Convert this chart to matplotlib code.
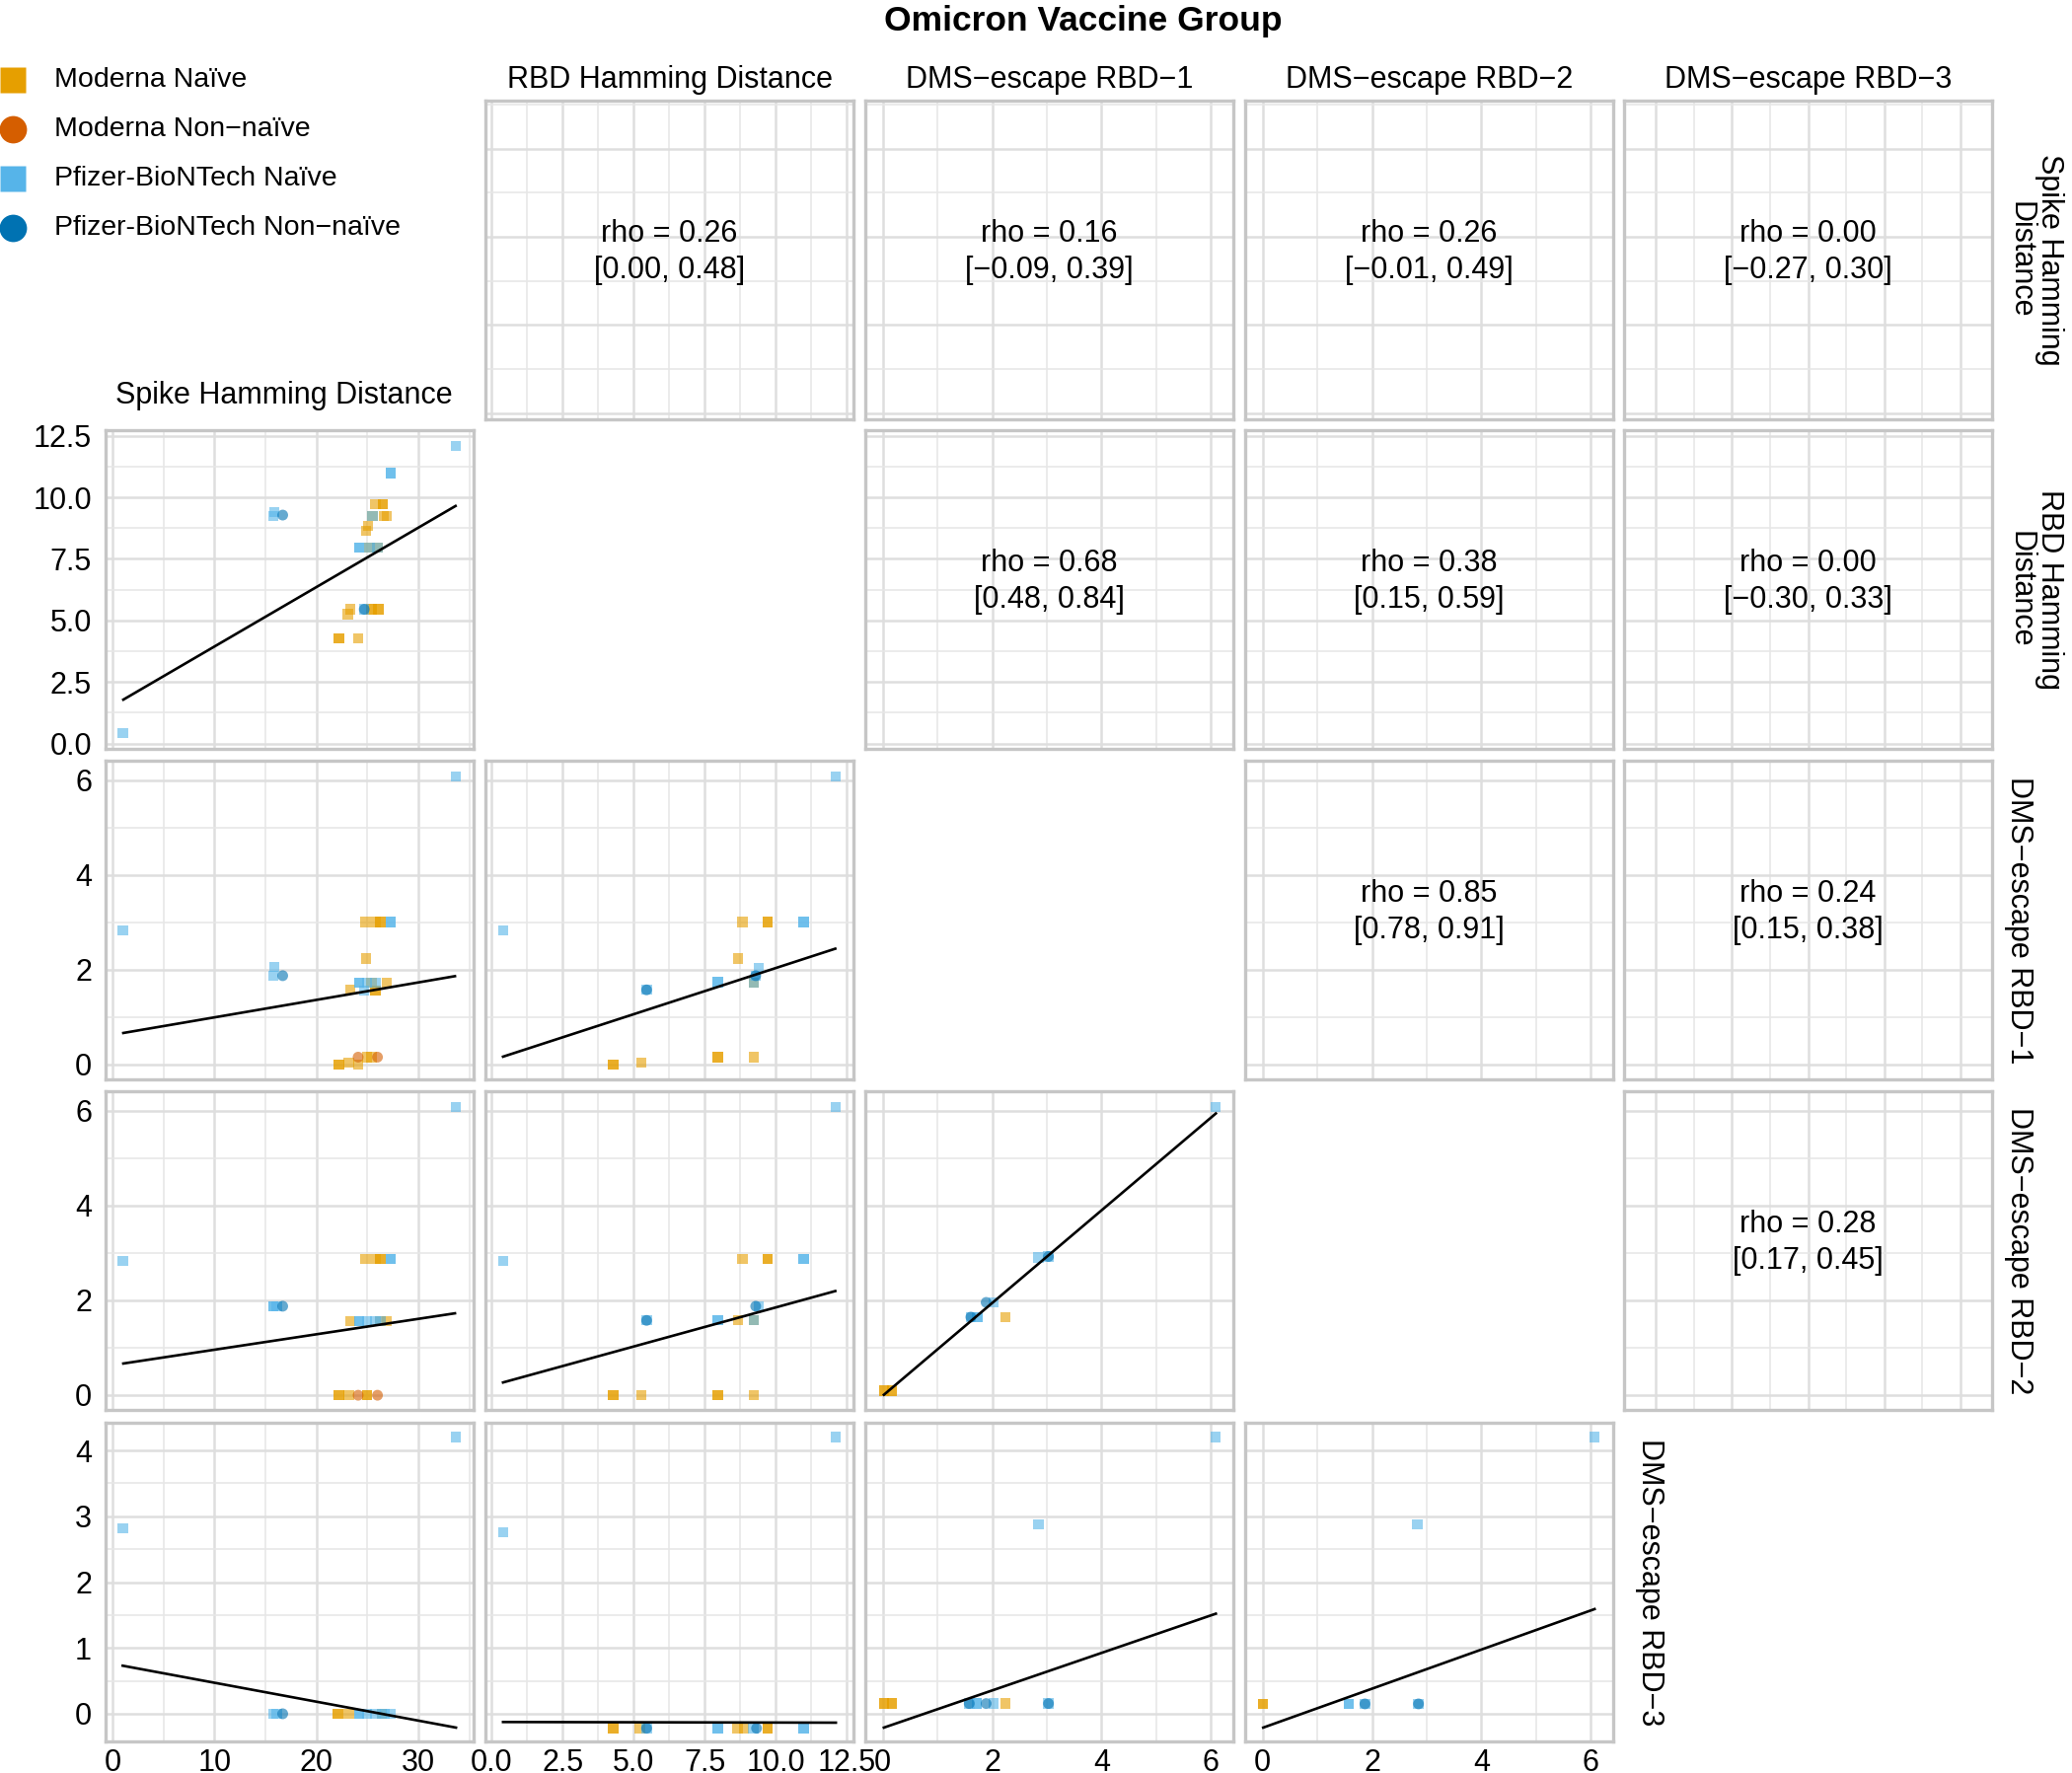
import matplotlib
matplotlib.use("Agg")
import matplotlib.pyplot as plt

plt.rcParams["font.family"] = ["Liberation Sans", "DejaVu Sans"]

# ---- groups ----
group_codes = ["MN", "MX", "PN", "PX"]
group_names = ["Moderna Naïve", "Moderna Non−naïve", "Pfizer-BioNTech Naïve", "Pfizer-BioNTech Non−naïve"]
group_colors = ["#E69F00", "#D55E00", "#56B4E9", "#0072B2"]
group_shapes = ["s", "o", "s", "o"]

# ---- variables / scales ----
var_titles = ["Spike Hamming Distance", "RBD Hamming Distance", "DMS−escape RBD−1",
              "DMS−escape RBD−2", "DMS−escape RBD−3"]
strip_titles = ["Spike Hamming\nDistance", "RBD Hamming\nDistance", "DMS−escape RBD−1",
                "DMS−escape RBD−2", "DMS−escape RBD−3"]

spike_ticks = [0, 10, 20, 30]
spike_labels = ["0", "10", "20", "30"]
rbd_ticks = [0, 2.5, 5, 7.5, 10, 12.5]
rbd_labels = ["0.0", "2.5", "5.0", "7.5", "10.0", "12.5"]
esc_ticks = [0, 2, 4, 6]
esc_labels = ["0", "2", "4", "6"]
esc3_ticks = [0, 1, 2, 3, 4]
esc3_labels = ["0", "1", "2", "3", "4"]

var_ticks = [spike_ticks, rbd_ticks, esc_ticks, esc_ticks, esc3_ticks]
var_labels = [spike_labels, rbd_labels, esc_labels, esc_labels, esc3_labels]
var_limits = [(-0.68, 35.43), (-0.22, 12.73), (-0.32, 6.41), (-0.32, 6.41), (-0.42, 4.42)]

# ---- upper triangle: spearman rho with CI ----
cor_pairs = [(0, 1), (0, 2), (0, 3), (0, 4), (1, 2), (1, 3), (1, 4), (2, 3), (2, 4), (3, 4)]
cor_rho = [0.26, 0.16, 0.26, 0.00, 0.68, 0.38, 0.00, 0.85, 0.24, 0.28]
cor_lo = [0.00, -0.09, -0.01, -0.27, 0.48, 0.15, -0.30, 0.78, 0.15, 0.17]
cor_hi = [0.48, 0.39, 0.49, 0.30, 0.84, 0.59, 0.33, 0.91, 0.38, 0.45]

# ---- lower triangle: points (x, y, group) as read per panel ----
spike_rbd = [(33.7, 12.09, "PN"), (27.3, 10.98, "PN"), (27.3, 10.98, "PN"), (25.8, 9.72, "MN"),
             (26.5, 9.72, "MN"), (26.5, 9.72, "MN"), (15.9, 9.41, "PN"), (15.8, 9.25, "PN"),
             (25.5, 9.25, "PN"), (25.5, 9.25, "MN"), (26.6, 9.25, "MN"), (26.9, 9.25, "MN"),
             (25.1, 8.85, "MN"), (24.9, 8.65, "MN"), (24.2, 7.96, "PN"), (24.2, 7.96, "PN"),
             (25.2, 7.96, "PN"), (25.2, 7.96, "MN"), (26.0, 7.96, "PN"), (26.0, 7.96, "MN"),
             (23.3, 5.45, "MN"), (23.1, 5.25, "MN"), (24.7, 5.45, "PN"), (24.7, 5.45, "PX"),
             (25.4, 5.45, "MN"), (25.4, 5.45, "MN"), (26.1, 5.45, "MN"), (26.1, 5.45, "MN"),
             (22.2, 4.28, "MN"), (22.2, 4.28, "MN"), (24.1, 4.28, "MN"), (1.0, 0.41, "PN"),
             (16.7, 9.28, "PX")]
spike_rbd_fit = [(1.06, 1.78), (33.66, 9.65)]

spike_esc1 = [(33.7, 6.08, "PN"), (1.0, 2.83, "PN"), (24.8, 3.0, "MN"), (25.8, 3.0, "MN"),
              (26.3, 3.0, "MN"), (26.3, 3.0, "MN"), (27.3, 3.0, "PN"), (27.3, 3.0, "PN"),
              (24.85, 2.23, "MN"), (15.9, 2.05, "PN"), (15.8, 1.87, "PN"),
              (24.2, 1.72, "PN"), (24.2, 1.72, "PN"), (25.0, 1.72, "PN"), (25.4, 1.72, "MN"),
              (25.8, 1.72, "PN"), (26.9, 1.72, "MN"), (23.3, 1.58, "MN"), (24.7, 1.55, "PN"),
              (25.8, 1.55, "MN"), (25.8, 1.55, "MN"), (25.0, 0.15, "MN"), (25.4, 0.15, "MN"),
              (22.2, -0.01, "MN"), (22.2, -0.01, "MN"), (23.2, 0.03, "MN"), (24.1, -0.01, "MN"),
              (16.7, 1.87, "PX"), (24.1, 0.15, "MX"), (26.0, 0.15, "MX")]
spike_esc1_fit = [(1.06, 0.66), (33.6, 1.86)]

spike_esc2 = [(33.7, 6.08, "PN"), (1.0, 2.83, "PN"), (24.8, 2.87, "MN"), (25.8, 2.87, "MN"),
              (26.3, 2.87, "MN"), (26.3, 2.87, "MN"), (27.3, 2.87, "PN"), (27.3, 2.87, "PN"),
              (15.8, 1.87, "PN"), (15.8, 1.87, "PN"), (16.1, 1.87, "PN"),
              (23.3, 1.56, "MN"), (24.2, 1.56, "PN"), (24.2, 1.56, "PN"), (25.0, 1.56, "PN"),
              (25.8, 1.56, "PN"), (26.3, 1.56, "MN"), (26.3, 1.56, "PN"), (26.9, 1.56, "MN"),
              (22.2, -0.01, "MN"), (22.2, -0.01, "MN"), (23.2, -0.01, "MN"), (25.0, -0.01, "MN"),
              (25.0, -0.01, "MN"), (16.7, 1.87, "PX"), (24.1, -0.01, "MX"), (26.0, -0.01, "MX")]
spike_esc2_fit = [(1.06, 0.66), (33.6, 1.72)]

spike_esc3 = [(33.7, 4.2, "PN"), (1.0, 2.82, "PN"), (15.8, 0.0, "PN"), (16.1, 0.0, "PN"),
              (22.1, 0.0, "MN"), (22.1, 0.0, "MN"), (23.2, 0.0, "MN"), (24.2, 0.0, "PN"),
              (24.2, 0.0, "PN"), (25.0, 0.0, "PN"), (25.8, 0.0, "PN"), (26.4, 0.0, "MN"),
              (26.4, 0.0, "PN"), (26.7, 0.0, "PN"), (27.3, 0.0, "PN"), (16.7, 0.0, "PX")]
spike_esc3_fit = [(1.0, 0.73), (33.7, -0.21)]

rbd_esc1 = [(12.11, 6.08, "PN"), (0.4, 2.83, "PN"), (8.82, 3.0, "MN"), (9.71, 3.0, "MN"),
            (9.71, 3.0, "MN"), (10.98, 3.0, "PN"), (10.98, 3.0, "PN"), (8.67, 2.23, "MN"),
            (9.4, 2.03, "PN"), (9.29, 1.87, "PN"), (9.23, 1.72, "PN"), (9.23, 1.72, "MN"),
            (7.96, 1.73, "PN"), (7.96, 1.73, "PN"), (5.45, 1.57, "PN"),
            (4.27, -0.01, "MN"), (4.27, -0.01, "MN"), (5.27, 0.03, "MN"), (7.96, 0.15, "MN"),
            (7.96, 0.15, "MN"), (9.23, 0.15, "MN"), (9.29, 1.87, "PX"), (5.45, 1.57, "PX")]
rbd_esc1_fit = [(0.4, 0.16), (12.09, 2.44)]

rbd_esc2 = [(12.11, 6.08, "PN"), (0.4, 2.83, "PN"), (8.82, 2.87, "MN"), (9.71, 2.87, "MN"),
            (9.71, 2.87, "MN"), (10.98, 2.87, "PN"), (10.98, 2.87, "PN"), (9.4, 1.87, "PN"),
            (5.45, 1.57, "PN"), (7.96, 1.57, "PN"), (7.96, 1.57, "PN"), (8.67, 1.57, "MN"),
            (9.23, 1.57, "PN"), (9.23, 1.57, "MN"), (4.27, -0.01, "MN"), (4.27, -0.01, "MN"),
            (5.27, -0.01, "MN"), (7.96, -0.01, "MN"), (7.96, -0.01, "MN"), (9.23, -0.01, "MN"),
            (9.29, 1.87, "PX"), (5.45, 1.57, "PX")]
rbd_esc2_fit = [(0.4, 0.26), (12.09, 2.19)]

esc1_esc2 = [(6.09, 6.08, "PN"), (2.85, 2.9, "PN"), (3.03, 2.92, "PN"), (2.03, 1.95, "PN"),
             (1.61, 1.64, "PN"), (1.73, 1.64, "PN"), (1.73, 1.64, "PN"), (2.24, 1.64, "MN"),
             (0.02, 0.09, "MN"), (0.02, 0.09, "MN"), (0.17, 0.09, "MN"), (0.17, 0.09, "MN"),
             (3.03, 2.92, "PX"), (1.89, 1.95, "PX"), (1.61, 1.64, "PX")]
esc1_esc2_fit = [(0.02, 0.0), (6.09, 5.94)]

rbd_esc3 = [(12.11, 4.2, "PN"), (0.4, 2.76, "PN"), (4.27, -0.22, "MN"), (4.27, -0.22, "MN"),
            (5.21, -0.22, "MN"), (5.45, -0.22, "PN"), (7.96, -0.22, "PN"), (7.96, -0.22, "PN"),
            (8.65, -0.22, "MN"), (8.88, -0.22, "MN"), (9.2, -0.22, "PN"), (9.71, -0.22, "MN"),
            (9.71, -0.22, "MN"), (10.98, -0.22, "PN"), (10.98, -0.22, "PN"),
            (5.45, -0.22, "PX"), (9.32, -0.22, "PX")]
rbd_esc3_fit = [(0.4, -0.125), (12.11, -0.135)]

esc1_esc3 = [(6.09, 4.2, "PN"), (2.85, 2.88, "PN"), (0.02, 0.155, "MN"), (0.02, 0.155, "MN"),
             (0.17, 0.155, "MN"), (0.17, 0.155, "MN"), (1.58, 0.155, "PN"), (1.72, 0.155, "PN"),
             (1.72, 0.155, "PN"), (2.03, 0.155, "PN"), (2.24, 0.155, "MN"), (3.03, 0.155, "PN"),
             (1.58, 0.155, "PX"), (1.89, 0.155, "PX"), (3.03, 0.155, "PX")]
esc1_esc3_fit = [(0.02, -0.21), (6.09, 1.52)]

esc2_esc3 = [(6.07, 4.2, "PN"), (2.83, 2.88, "PN"), (0.0, 0.15, "MN"), (0.0, 0.15, "MN"),
             (1.57, 0.15, "PN"), (1.57, 0.15, "PN"), (1.87, 0.15, "PN"), (2.85, 0.15, "PN"),
             (1.87, 0.15, "PX"), (2.85, 0.15, "PX")]
esc2_esc3_fit = [(0.01, -0.21), (6.07, 1.59)]

# (row variable, column variable, points, fit line)
lower_panels = [
    (1, 0, spike_rbd, spike_rbd_fit),
    (2, 0, spike_esc1, spike_esc1_fit),
    (3, 0, spike_esc2, spike_esc2_fit),
    (4, 0, spike_esc3, spike_esc3_fit),
    (2, 1, rbd_esc1, rbd_esc1_fit),
    (3, 1, rbd_esc2, rbd_esc2_fit),
    (4, 1, rbd_esc3, rbd_esc3_fit),
    (3, 2, esc1_esc2, esc1_esc2_fit),
    (4, 2, esc1_esc3, esc1_esc3_fit),
    (4, 3, esc2_esc3, esc2_esc3_fit),
]

# ---- layout (pixels) ----
W, H = 2100, 1797
col_left = [107, 492, 877, 1262, 1646]
row_top = [102, 436, 771, 1106, 1442]
panel_w, panel_h = 373, 323
FS = 22

fig = plt.figure(figsize=(W / 100, H / 100), dpi=100)

# overlay in pixel coordinates for titles, strips and legend
over = fig.add_axes([0, 0, 1, 1])
over.set_xlim(0, W)
over.set_ylim(H, 0)
over.axis("off")


def minor_ticks(v):
    t = var_ticks[v]
    step = t[1] - t[0]
    cand = [t[0] - step / 2] + [x + step / 2 for x in t]
    lo, hi = var_limits[v]
    return [c for c in cand if lo <= c <= hi]


def make_panel(r, c):
    ax = fig.add_axes([col_left[c] / W, 1 - (row_top[r] + panel_h) / H, panel_w / W, panel_h / H])
    ax.set_xlim(var_limits[c])
    ax.set_ylim(var_limits[r])
    ax.set_xticks(var_ticks[c])
    ax.set_yticks(var_ticks[r])
    ax.set_xticks(minor_ticks(c), minor=True)
    ax.set_yticks(minor_ticks(r), minor=True)
    ax.grid(which="major", color="#dedede", lw=1.8)
    ax.grid(which="minor", color="#e6e6e6", lw=1.1)
    ax.set_axisbelow(True)
    for s in ax.spines.values():
        s.set_color("#c6c6c6")
        s.set_linewidth(2.4)
    ax.tick_params(which="both", length=0, labelsize=FS, labelcolor="black")
    if c == 0 and r > 0:
        ax.set_yticklabels(var_labels[r])
        ax.tick_params(axis="y", pad=10)
    else:
        ax.tick_params(axis="y", labelleft=False)
    if r == 4:
        ax.set_xticklabels(var_labels[c])
        ax.tick_params(axis="x", pad=5)
    else:
        ax.tick_params(axis="x", labelbottom=False)
    return ax


# lower triangle scatter panels
for r, c, pts, fit in lower_panels:
    ax = make_panel(r, c)
    for code, col, shp in zip(group_codes, group_colors, group_shapes):
        xs = [p[0] for p in pts if p[2] == code]
        ys = [p[1] for p in pts if p[2] == code]
        if xs:
            ax.scatter(xs, ys, marker=shp, s=56 if shp == "s" else 62, color=col,
                       alpha=0.6, edgecolors="none", zorder=3)
    ax.plot([fit[0][0], fit[1][0]], [fit[0][1], fit[1][1]], color="black", lw=1.9, zorder=4)


def fmt(v):
    return f"{v:.2f}".replace("-", "\u2212")


# upper triangle correlation panels
for (r, c), rho, lo, hi in zip(cor_pairs, cor_rho, cor_lo, cor_hi):
    ax = make_panel(r, c)
    ax.text(0.5, 0.525, f"rho = {fmt(rho)}\n[{fmt(lo)}, {fmt(hi)}]", transform=ax.transAxes,
            ha="center", va="center", fontsize=FS, linespacing=1.3)

# title
over.text(1098, 22, "Omicron Vaccine Group", ha="center", va="center",
          fontsize=25.5, fontweight="bold")

# column strips
for c in range(1, 5):
    over.text(col_left[c] + panel_w / 2, 81, var_titles[c], ha="center", va="center", fontsize=FS)
over.text(col_left[0] + panel_w / 2 - 6, 401, var_titles[0], ha="center", va="center", fontsize=FS)

# row strips (right side)
for r in range(4):
    xs = 2062 if "\n" in strip_titles[r] else 2046
    over.text(xs, row_top[r] + panel_h / 2, strip_titles[r], rotation=270, ha="center",
              va="center", fontsize=FS, linespacing=1.0)
over.text(1672, row_top[4] + panel_h / 2, strip_titles[4], rotation=270, ha="center",
          va="center", fontsize=FS)

# legend
for i, (name, col, shp) in enumerate(zip(group_names, group_colors, group_shapes)):
    y = 81 + i * 50
    over.plot([13], [y], marker=shp, ms=19 if shp == "s" else 20, color=col, mec="none",
              ls="none", clip_on=False)
    over.text(55, y, name, ha="left", va="center", fontsize=20.5)

fig.savefig("out.png", dpi=100)
